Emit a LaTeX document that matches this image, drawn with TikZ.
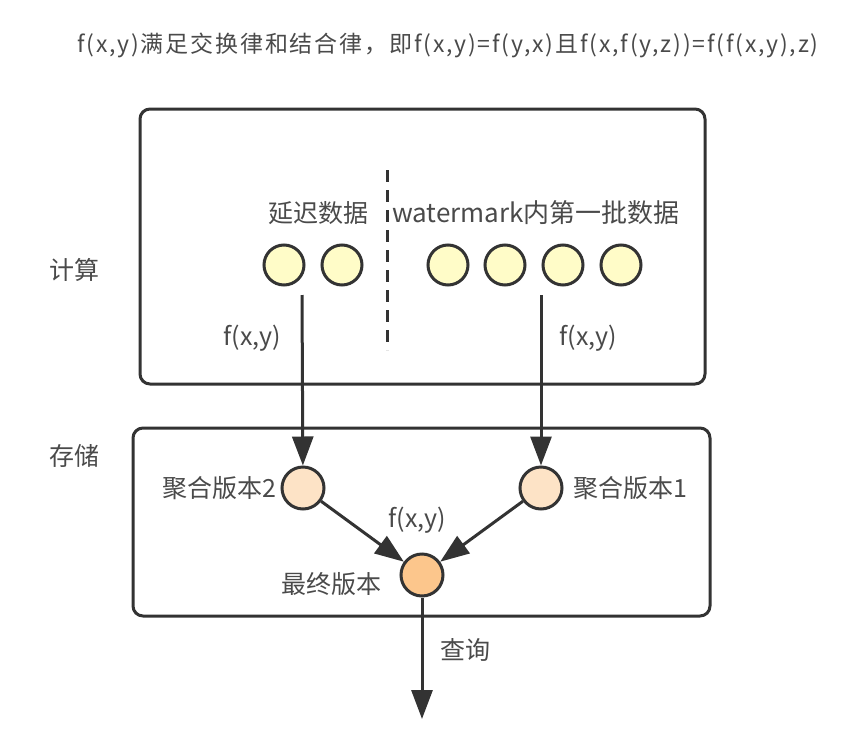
\documentclass[tikz,border=0pt]{standalone}
\usepackage{fontspec}
\setmainfont{Noto Sans CJK SC}
\newfontfamily\titlefont[LetterSpace=8]{Noto Sans CJK SC}
\usetikzlibrary{positioning, arrows.meta}

\definecolor{linegray}{HTML}{333333}
\definecolor{textgray}{HTML}{4A4A4A}
\definecolor{datafill}{HTML}{FFFCC8}
\definecolor{aggfill}{HTML}{FDE3C6}
\definecolor{finalfill}{HTML}{FCC68C}

\begin{document}
\begin{tikzpicture}[x=1pt, y=-1pt, >={Triangle[length=29pt,width=21pt]}]
    % Styles
    \tikzstyle{panel} = [draw=linegray, line width=3pt, rounded corners=10pt]
    \tikzstyle{dot} = [circle, draw=linegray, line width=3pt, minimum size=40pt, inner sep=0pt]
    \tikzstyle{label} = [text=textgray, inner sep=0pt, font=\fontsize{25}{30}\selectfont]
    \tikzstyle{flow} = [->, draw=linegray, line width=3pt]

    \useasboundingbox (0,0) rectangle (868,750);

    % Title
    \node [label, font=\titlefont\fontsize{23}{28}\selectfont] (title) at (448,45) {f(x,y)满足交换律和结合律，即f(x,y)=f(y,x)且f(x,f(y,z))=f(f(x,y),z)};

    % Boxes
    \draw [panel] (140,109) rectangle (705,384);
    \draw [panel] (133,428) rectangle (710,616);
    \node [label] (compute) at (74,270) {计算};
    \node [label] (store) at (74,456) {存储};

    % Separator
    \coordinate (septop) at (387,170);
    \coordinate (sepbot) at (387,350);
    \draw [linegray, line width=3pt, dash pattern=on 12pt off 8pt] (septop) -- (sepbot);

    % Data nodes
    \node [label] (late) at (318,213) {延迟数据};
    \node [label, font=\fontsize{26}{31}\selectfont] (batch) at (536,213) {watermark内第一批数据};
    \node [dot, fill=datafill] (d1) at (284,265) {};
    \node [dot, fill=datafill] (d2) at (342,265) {};
    \node [dot, fill=datafill] (d3) at (448,265) {};
    \node [dot, fill=datafill] (d4) at (505,265) {};
    \node [dot, fill=datafill] (d5) at (563,265) {};
    \node [dot, fill=datafill] (d6) at (621,265) {};

    % Aggregates
    \node [dot, fill=aggfill, minimum size=42pt] (agg2) at (303,488) {};
    \node [dot, fill=aggfill, minimum size=42pt] (agg1) at (541,488) {};
    \node [dot, fill=finalfill, minimum size=42pt] (final) at (422,575) {};
    \node [label, left=4pt of agg2] (agg2text) {聚合版本2};
    \node [label, right=10pt of agg1] (agg1text) {聚合版本1};
    \node [label, left=18pt of final, yshift=-9pt] (finaltext) {最终版本};

    % Arrows
    \coordinate (srcleft) at (302,295);
    \coordinate (srcright) at (541,295);
    \coordinate (query) at (422,719);
    \draw [flow] (srcleft) -- (agg2);
    \draw [flow] (srcright) -- (agg1);
    \draw [flow] (agg2) -- (final);
    \draw [flow] (agg1) -- (final);
    \draw [flow] (final) -- (query);

    % Labels
    \node [label] (fleft) at (252,338) {f(x,y)};
    \node [label] (fright) at (588,338) {f(x,y)};
    \node [label] (fmerge) at (417,520) {f(x,y)};
    \node [label] (querytext) at (465,650) {查询};
\end{tikzpicture}
\end{document}
